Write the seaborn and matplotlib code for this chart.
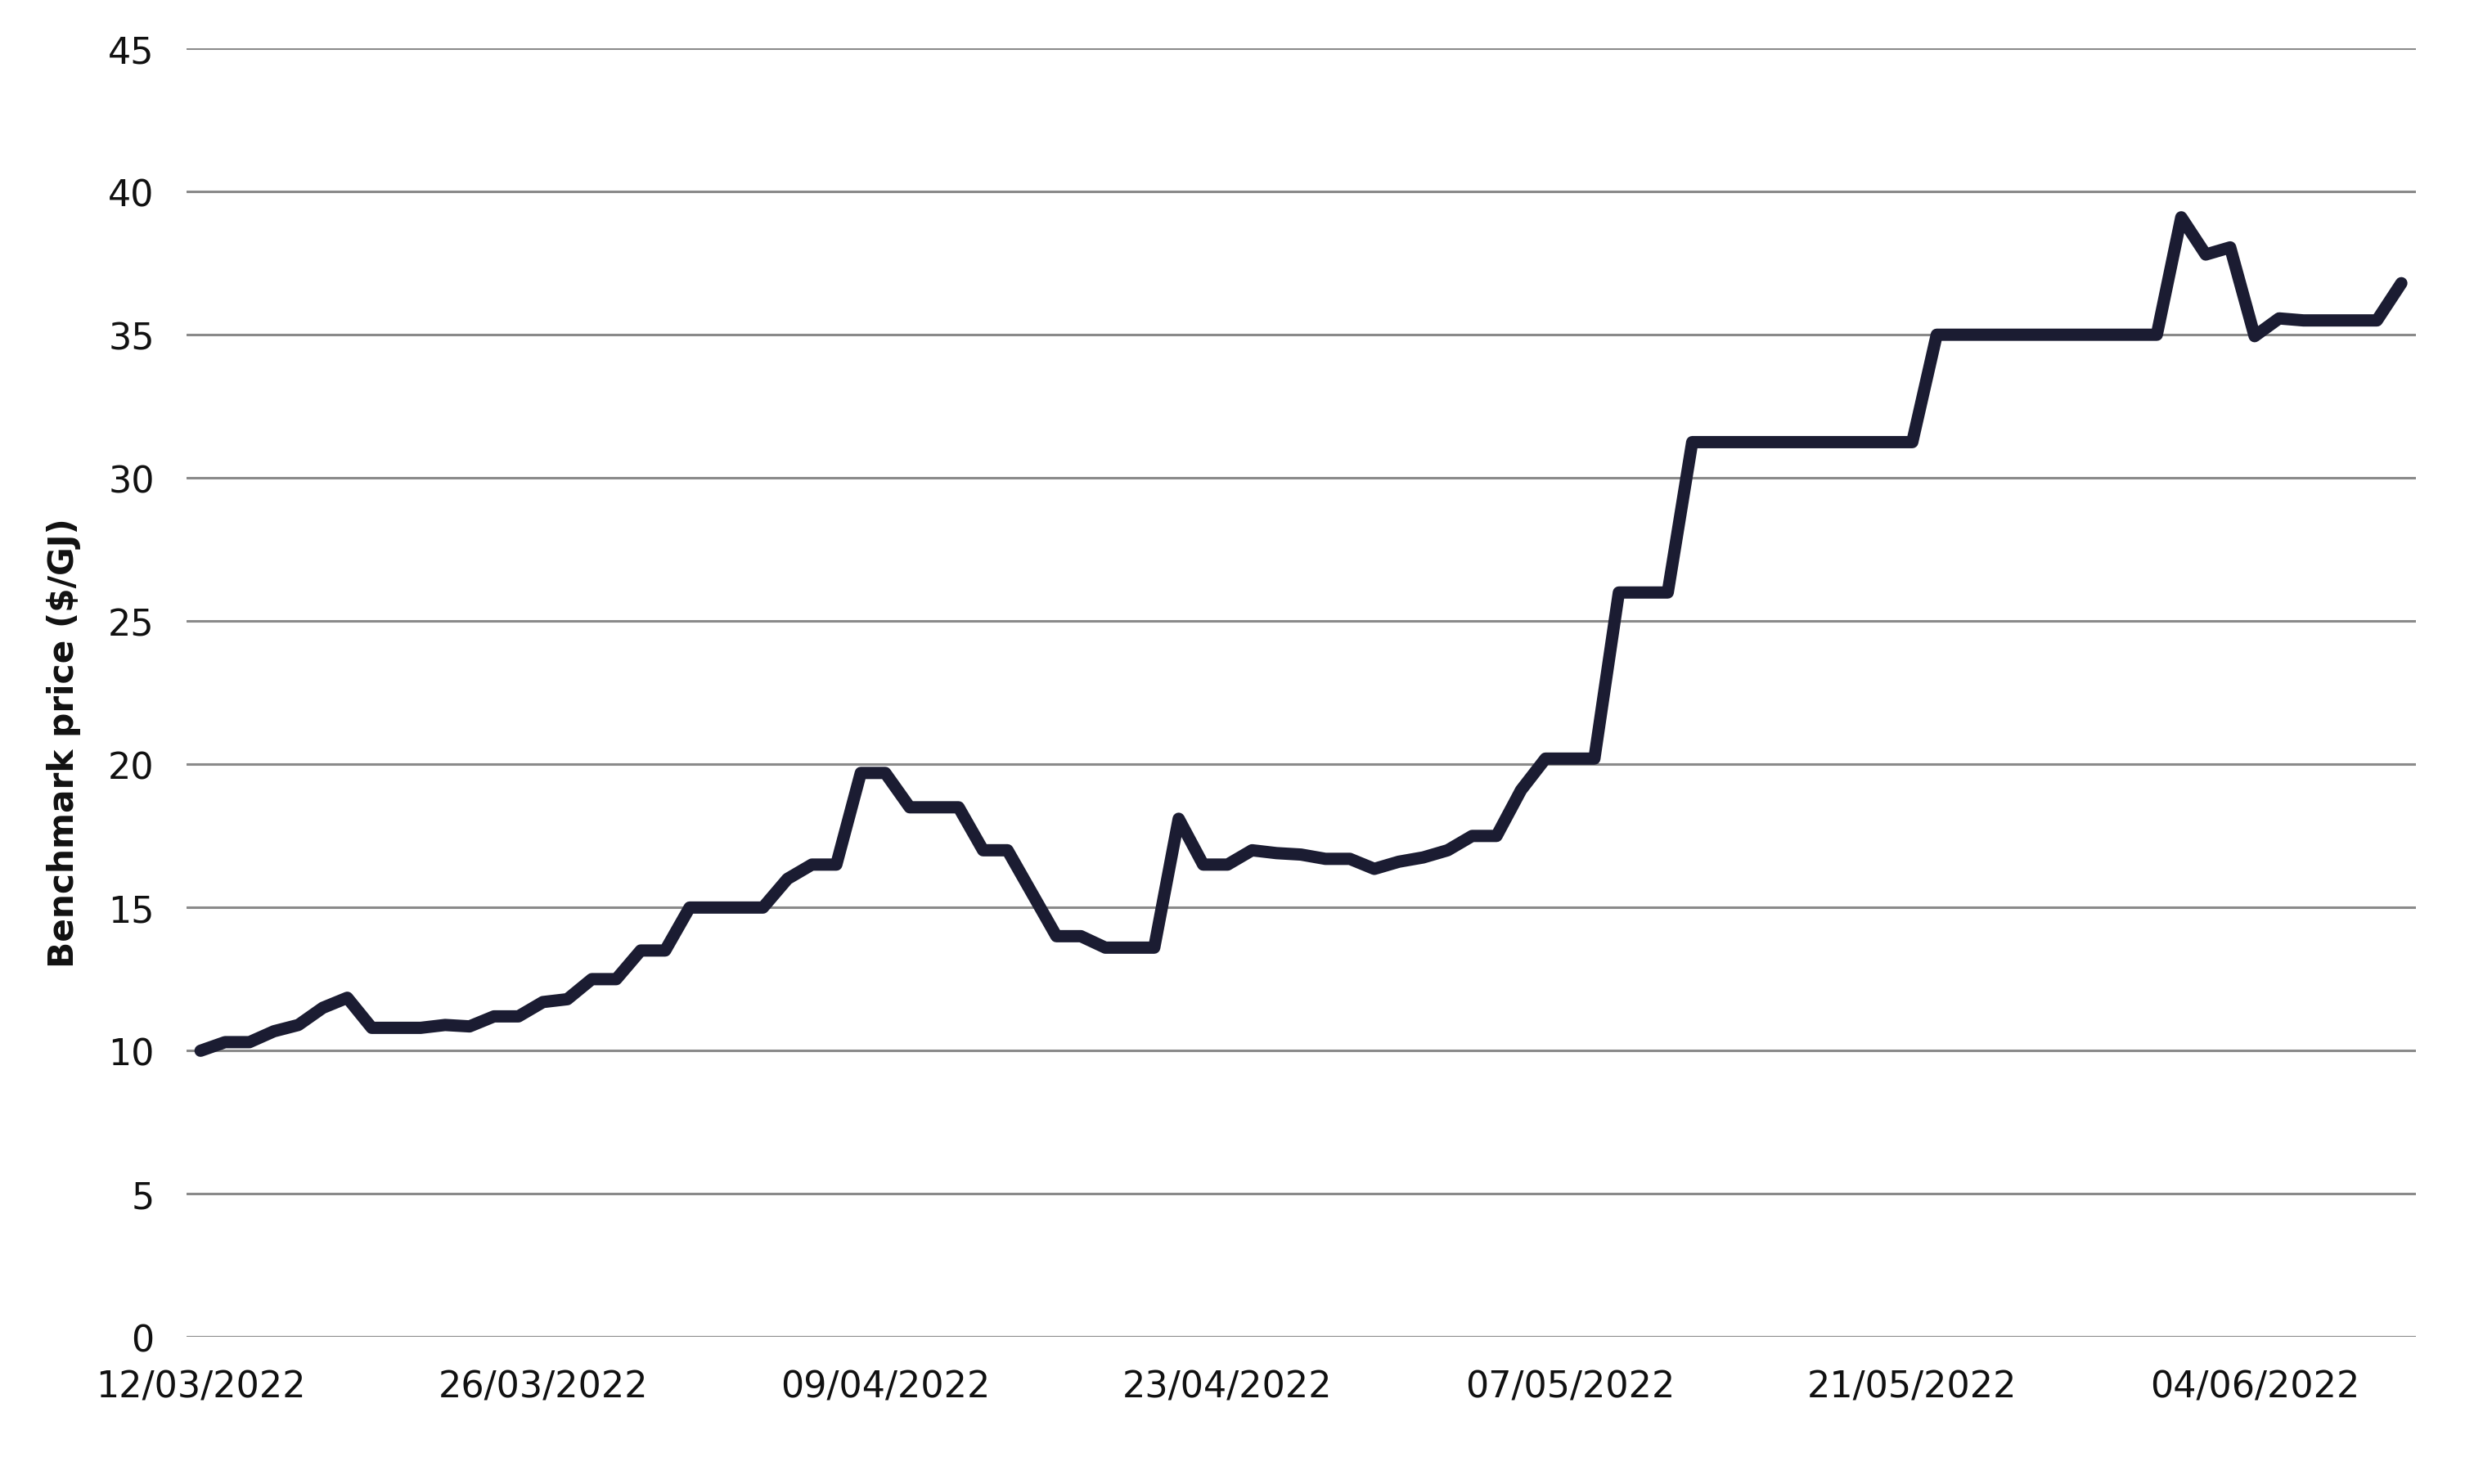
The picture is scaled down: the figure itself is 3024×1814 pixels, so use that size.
import matplotlib
matplotlib.use('Agg')
import matplotlib.pyplot as plt
import matplotlib.dates as mdates
import pandas as pd
import seaborn as sns

# daily benchmark price, starting 12/03/2022
start_date = '2022-03-12'
prices = [
    10.0, 10.3, 10.3, 10.68, 10.9, 11.5, 11.85, 10.8, 10.8, 10.8,
    10.9, 10.85, 11.2, 11.2, 11.7, 11.8, 12.5, 12.5, 13.5, 13.5,
    15.0, 15.0, 15.0, 15.0, 16.0, 16.5, 16.5, 19.7, 19.7, 18.5,
    18.5, 18.5, 17.0, 17.0, 15.5, 14.0, 14.0, 13.6, 13.6, 13.6,
    18.1, 16.5, 16.5, 17.0, 16.9, 16.85, 16.7, 16.7, 16.35, 16.6,
    16.75, 17.0, 17.5, 17.5, 19.1, 20.2, 20.2, 20.2, 26.0, 26.0,
    26.0, 31.25, 31.25, 31.25, 31.25, 31.25, 31.25, 31.25, 31.25, 31.25,
    31.25, 35.0, 35.0, 35.0, 35.0, 35.0, 35.0, 35.0, 35.0, 35.0,
    35.0, 39.1, 37.8, 38.05, 34.95, 35.57, 35.5, 35.5, 35.5, 35.5,
    36.8,
]
tick_dates = ['2022-03-12', '2022-03-26', '2022-04-09', '2022-04-23',
              '2022-05-07', '2022-05-21', '2022-06-04']
y_ticks = [0, 5, 10, 15, 20, 25, 30, 35, 40, 45]

dates = pd.date_range(start_date, periods=len(prices), freq='D')
df = pd.DataFrame({'date': dates, 'price': prices})

sns.set_style('white')
plt.rcParams['font.family'] = ['DejaVu Sans']

fig = plt.figure(figsize=(15.12, 9.075), dpi=200)
ax = fig.add_axes([0.0753, 0.0989, 0.9011, 0.868])

sns.lineplot(data=df, x='date', y='price', color='#1b1c32', linewidth=5.4,
             solid_joinstyle='round', solid_capstyle='round', ax=ax, zorder=3)

ax.set_ylim(0, 45)
ax.set_yticks(y_ticks)
ax.set_xlim(dates[0] - pd.Timedelta(hours=14), dates[-1] + pd.Timedelta(hours=14))
ax.set_xticks(pd.to_datetime(tick_dates))
ax.xaxis.set_major_formatter(mdates.DateFormatter('%d/%m/%Y'))

ax.grid(axis='y', color='#8a8a8a', linewidth=1.1)
ax.grid(axis='x', visible=False)
ax.set_axisbelow(True)
for s in ax.spines.values():
    s.set_visible(False)

ax.tick_params(axis='y', length=0, pad=14, labelsize=16, labelcolor='#111111')
ax.tick_params(axis='x', length=0, pad=14, labelsize=16, labelcolor='#111111')
ax.set_xlabel('')
ax.set_ylabel('Benchmark price ($/GJ)', fontsize=15.2, fontweight='bold',
              color='#111111')
ax.yaxis.set_label_coords(-0.0474, 0.4614)

fig.savefig('out.png', dpi=200)
